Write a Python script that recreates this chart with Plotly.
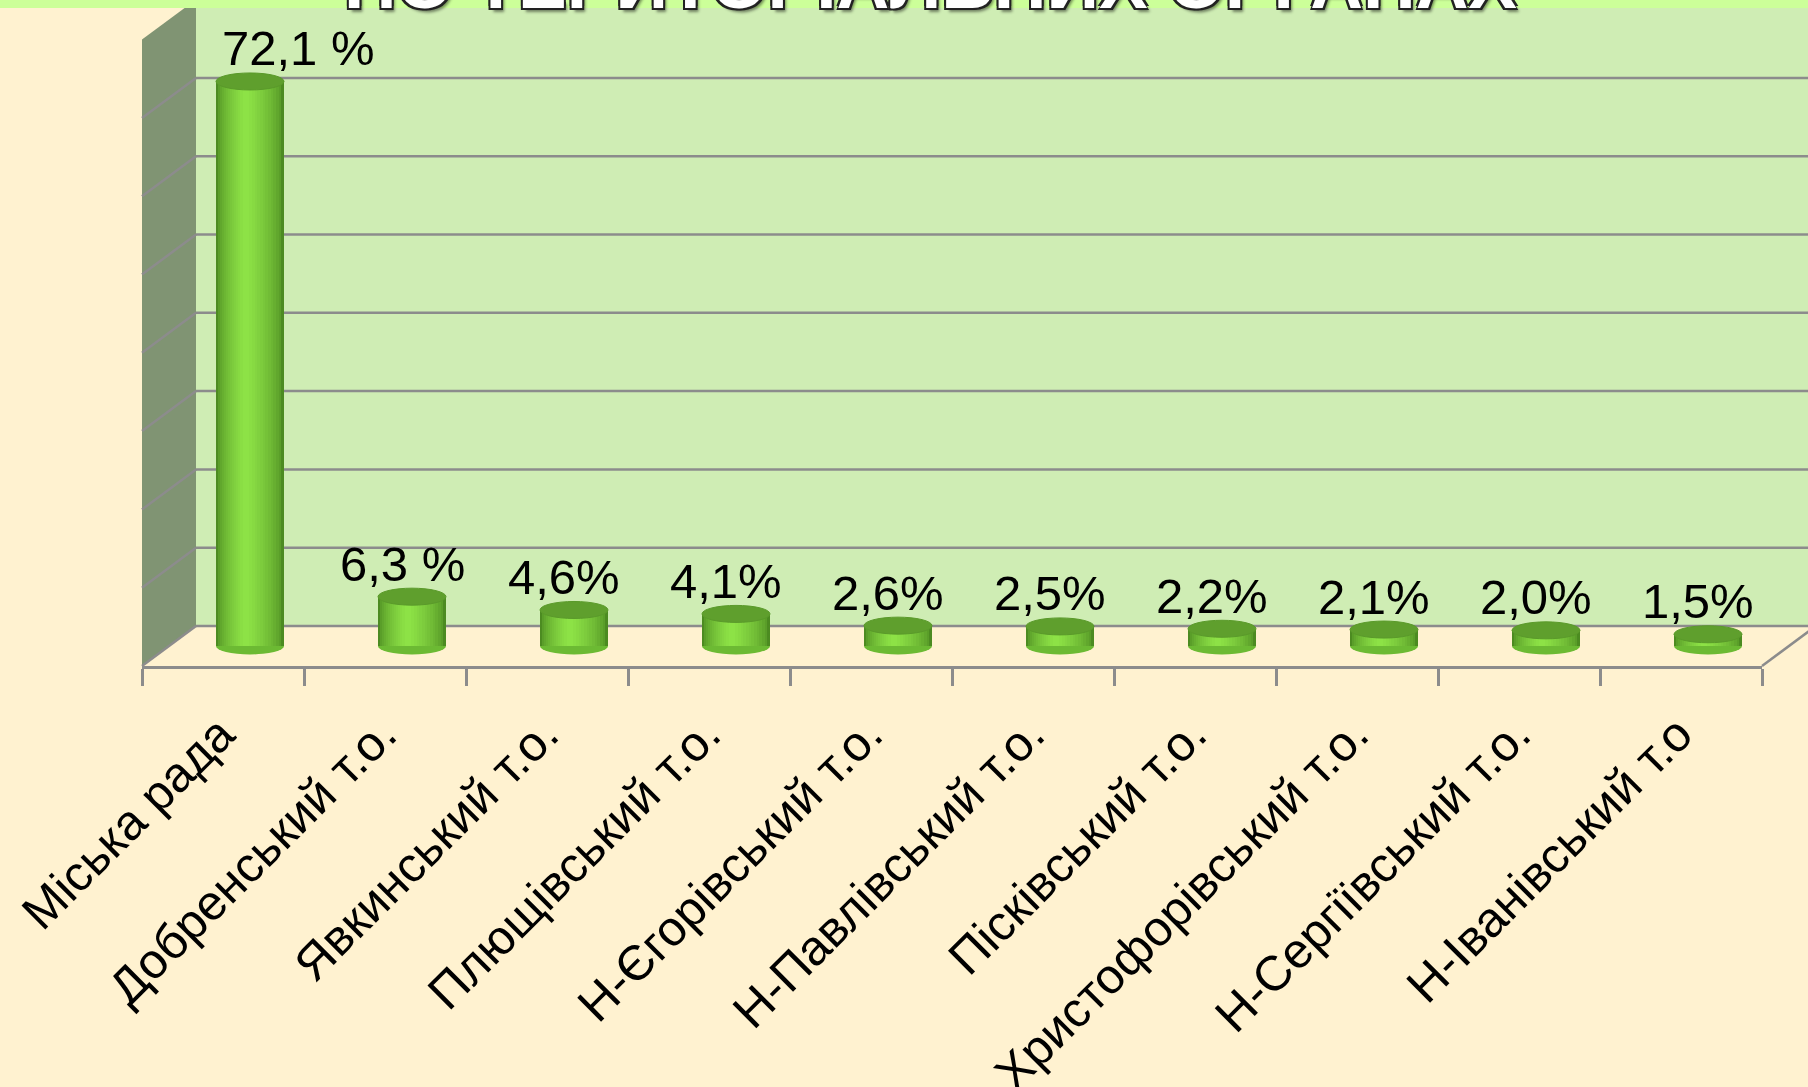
import plotly.graph_objects as go

CATEGORIES = [
    "Міська рада", "Добренський т.о.", "Явкинський т.о.", "Плющівський т.о.",
    "Н-Єгорівський т.о.", "Н-Павлівський т.о.", "Пісківський т.о.",
    "Христофорівський т.о.", "Н-Сергіївський т.о.", "Н-Іванівський т.о",
]
SHARES = [72.1, 6.3, 4.6, 4.1, 2.6, 2.5, 2.2, 2.1, 2.0, 1.5]
SHARE_LABELS = ["72,1 %", "6,3 %", "4,6%", "4,1%", "2,6%", "2,5%", "2,2%", "2,1%", "2,0%", "1,5%"]
GRID_VALUES = [0, 10, 20, 30, 40, 50, 60, 70]
TITLE = "ПО ТЕРИТОРІАЛЬНИХ ОРГАНАХ"

# page geometry (pixels)
W, H = 1808, 1087
L, R, T, B = 142, 46, 0, 421
PW, PH = W - L - R, H - T - B
PXU = 7.83            # pixels per percent
DX, DY = 54, 40       # depth offset front -> back
FONT = "Liberation Sans, Arial, sans-serif"

BG = '#FFF2D0'
BACK_WALL = '#CFEDB4'
SIDE_WALL = '#809473'
GRID = '#8C8C8C'
STRIP = '#CCFF99'

# bar geometry in category units
BAR_W = 68 / 162
BAR_SHIFT = (DX / 2) / 162
CAP = 8.5 / PXU

# cylinder shading: dark edge -> light stripe a little left of centre
EDGE_RGB = (76, 139, 33)
LIGHT_RGB = (141, 226, 70)
N_SHADES = 14


def px(x):
    return (x - L) / PW


def py(y):
    return (T + PH - y) / PH


fig = go.Figure()

for k in range(N_SHADES):
    t = k / (N_SHADES - 1)
    rw = 1 - 0.9 * t
    rc = -0.06 * t
    mix = t ** 0.6
    rgb = [round(a + (b - a) * mix) for a, b in zip(EDGE_RGB, LIGHT_RGB)]
    w = rw * BAR_W
    fig.add_trace(go.Bar(
        x=CATEGORIES,
        y=SHARES,
        width=w,
        offset=BAR_SHIFT + rc * BAR_W - w / 2,
        marker=dict(color=f"rgb({rgb[0]},{rgb[1]},{rgb[2]})", line=dict(width=0)),
        hoverinfo='skip',
        showlegend=False
    ))

shapes = []
back_floor = T + PH - DY
# back wall and side wall
shapes.append(dict(type='rect', xref='paper', yref='paper', layer='below',
                   x0=px(L + DX), x1=px(W), y0=py(back_floor), y1=py(-10),
                   fillcolor=BACK_WALL, line=dict(width=0)))
side_top = back_floor - 80 * PXU
shapes.append(dict(type='path', xref='paper', yref='paper', layer='below',
                   path=f"M {px(L)},{py(T + PH)} L {px(L + DX)},{py(back_floor)} "
                        f"L {px(L + DX)},{py(side_top)} L {px(L)},{py(side_top + DY)} Z",
                   fillcolor=SIDE_WALL, line=dict(width=0)))
# grid lines on back and side walls
for g in GRID_VALUES:
    yb = back_floor - g * PXU
    shapes.append(dict(type='line', xref='paper', yref='paper', layer='below',
                       x0=px(L + DX), x1=px(W), y0=py(yb), y1=py(yb),
                       line=dict(color=GRID, width=2.5)))
    shapes.append(dict(type='line', xref='paper', yref='paper', layer='below',
                       x0=px(L), x1=px(L + DX), y0=py(yb + DY), y1=py(yb),
                       line=dict(color=GRID, width=2.5)))
# right edge of the floor
shapes.append(dict(type='line', xref='paper', yref='paper', layer='below',
                   x0=px(L + PW), x1=px(L + PW + DX), y0=py(T + PH), y1=py(back_floor),
                   line=dict(color=GRID, width=2.5)))
# top strip
shapes.append(dict(type='rect', xref='paper', yref='paper', layer='below',
                   x0=px(0), x1=px(W), y0=py(8), y1=py(-10),
                   fillcolor=STRIP, line=dict(width=0)))

# cylinder ends
for i, v in enumerate(SHARES):
    x0 = i + BAR_SHIFT - BAR_W / 2
    x1 = i + BAR_SHIFT + BAR_W / 2
    shapes.append(dict(type='circle', xref='x', yref='y', layer='below',
                       x0=x0, x1=x1, y0=-CAP, y1=CAP,
                       fillcolor='#6CBA33', line=dict(width=0)))
    shapes.append(dict(type='circle', xref='x', yref='y', layer='above',
                       x0=x0, x1=x1, y0=v - CAP, y1=v + CAP,
                       fillcolor='#5F9F2D', line=dict(color='#5A9A2A', width=1)))

annotations = []
for i, (v, lab) in enumerate(zip(SHARES, SHARE_LABELS)):
    dx = 48 if i == 0 else -10
    annotations.append(dict(
        x=CATEGORIES[i], y=v, xref='x', yref='y',
        text=lab, showarrow=False,
        xanchor='center', yanchor='bottom',
        xshift=DX / 2 + dx, yshift=4,
        font=dict(family=FONT, size=49, color='black')
    ))

annotations.append(dict(
    x=px(930), y=py(-18), xref='paper', yref='paper',
    text=TITLE, showarrow=False, xanchor='center', yanchor='middle',
    font=dict(family=FONT, size=73, color='white', weight='bold',
              shadow='-2px -2px 0 #222, 2px -2px 0 #222, -2px 2px 0 #222, '
                     '2px 2px 0 #222, 3px 4px 3px rgba(0,0,0,0.45)')
))

fig.update_layout(
    width=W,
    height=H,
    barmode='overlay',
    bargap=0,
    paper_bgcolor=BG,
    plot_bgcolor='rgba(0,0,0,0)',
    margin=dict(l=L, r=R, t=T, b=B, pad=0),
    showlegend=False,
    hovermode=False,
    shapes=shapes,
    annotations=annotations,
    xaxis=dict(
        type='category',
        range=[-0.5, 9.5],
        showline=True, linecolor=GRID, linewidth=2.5,
        ticks='outside', tickson='boundaries', ticklen=17,
        tickwidth=2.5, tickcolor=GRID,
        tickangle=-45,
        ticklabelstandoff=17, ticklabelshift=-3,
        tickfont=dict(family=FONT, size=49, color='black'),
        showgrid=False, zeroline=False,
        automargin=False
    ),
    yaxis=dict(
        range=[-DY / 2 / PXU, (PH - DY / 2) / PXU],
        visible=False,
        showgrid=False, zeroline=False,
        automargin=False
    )
)

fig.write_html(
    "out.html",
    config={'displayModeBar': False},
    post_script="document.body.style.margin='0';"
                "document.documentElement.style.overflow='hidden';"
)
